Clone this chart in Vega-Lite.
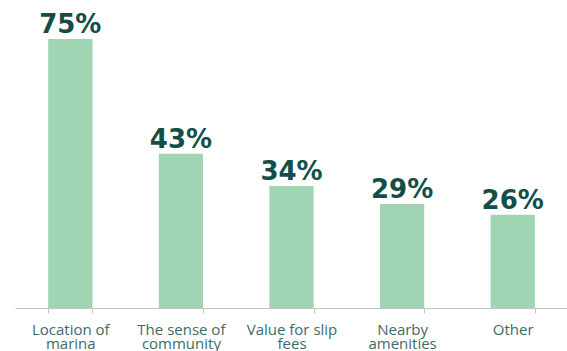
{
  "$schema": "https://vega.github.io/schema/vega-lite/v6.json",
  "width": 553,
  "height": 308,
  "autosize": {"type": "none"},
  "padding": {"left": 15, "top": 0, "right": 0, "bottom": 43},
  "background": "white",
  "config": {"view": {"stroke": null}},
  "data": {
    "values": [
      {"reason": "Location of|marina", "pct": 75, "label": "75%"},
      {"reason": "The sense of|community", "pct": 43, "label": "43%"},
      {"reason": "Value for slip|fees", "pct": 34, "label": "34%"},
      {"reason": "Nearby|amenities", "pct": 29, "label": "29%"},
      {"reason": "Other", "pct": 26, "label": "26%"}
    ]
  },
  "encoding": {
    "x": {
      "field": "reason",
      "type": "nominal",
      "sort": null,
      "scale": {"paddingInner": 0.6, "paddingOuter": 0.3},
      "axis": {
        "title": null,
        "labelAngle": 0,
        "labelExpr": "split(datum.label, '|')",
        "labelFont": "Open Sans",
        "labelFontSize": 15,
        "labelLineHeight": 14,
        "labelColor": "#3e6b66",
        "labelPadding": 9,
        "tickBand": "extent",
        "tickSize": 5,
        "tickColor": "#c4c4c4",
        "domainColor": "#c4c4c4",
        "labelLimit": 200
      }
    },
    "y": {
      "field": "pct",
      "type": "quantitative",
      "scale": {"domain": [0, 85.9], "nice": false},
      "axis": null
    }
  },
  "layer": [
    {"mark": {"type": "bar", "color": "#9fd5b3"}},
    {
      "mark": {"type": "text", "baseline": "alphabetic", "dy": -6, "font": "DejaVu Sans", "fontWeight": "bold", "fontSize": 26, "color": "#134e48"},
      "encoding": {"text": {"field": "label", "type": "nominal"}}
    }
  ]
}
